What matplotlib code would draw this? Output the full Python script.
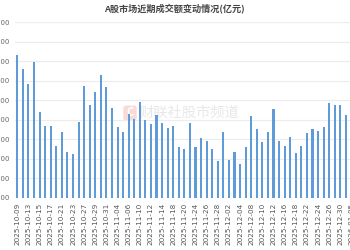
import matplotlib
matplotlib.use("Agg")
import matplotlib.pyplot as plt
from matplotlib.patches import FancyBboxPatch

plt.rcParams['font.family'] = ['Noto Sans CJK SC', 'DejaVu Sans']

dates = [
    "2025-10-09", "2025-10-10", "2025-10-13", "2025-10-14", "2025-10-15", "2025-10-16",
    "2025-10-17", "2025-10-20", "2025-10-21", "2025-10-22", "2025-10-23", "2025-10-24",
    "2025-10-27", "2025-10-28", "2025-10-29", "2025-10-30", "2025-10-31", "2025-11-03",
    "2025-11-04", "2025-11-05", "2025-11-06", "2025-11-07", "2025-11-10", "2025-11-11",
    "2025-11-12", "2025-11-13", "2025-11-14", "2025-11-17", "2025-11-18", "2025-11-19",
    "2025-11-20", "2025-11-21", "2025-11-24", "2025-11-25", "2025-11-26", "2025-11-27",
    "2025-11-28", "2025-12-01", "2025-12-02", "2025-12-03", "2025-12-04", "2025-12-05",
    "2025-12-08", "2025-12-09", "2025-12-10", "2025-12-11", "2025-12-12", "2025-12-15",
    "2025-12-16", "2025-12-17", "2025-12-18", "2025-12-19", "2025-12-22", "2025-12-23",
    "2025-12-24", "2025-12-25", "2025-12-26", "2025-12-29", "2025-12-30", "2025-12-31",
    "2026-01-05",
]

turnover = [
    26615, 25214, 23651, 25869, 20789, 19358, 19389, 17314, 18776, 16701,
    16466, 19767, 23477, 21535, 22803, 24571, 23375, 21198, 19226, 18776,
    20585, 20074, 21842, 20002, 19532, 20483, 19634, 19123, 19328, 17243,
    17038, 19665, 17243, 18101, 17856, 17038, 15812, 18745, 15884, 16671,
    15475, 17212, 20380, 19052, 17754, 18715, 21065, 17825, 17314, 18204,
    16599, 17345, 18674, 19082, 18847, 19287, 21740, 21474, 21505, 20513,
    25000,
]

yticks = [12000, 14000, 16000, 18000, 20000, 22000, 24000, 26000, 28000, 30000]
title = "A股市场近期成交额变动情况(亿元)"

W, H = 350, 250
fig = plt.figure(figsize=(W / 100, H / 100), dpi=100)
fig.patch.set_facecolor("white")

step = 5.57
left_px = 17.3 - step / 2
n = len(dates)
ax = fig.add_axes([left_px / W, 52 / H, n * step / W, 176 / H])
ax.set_zorder(1)
ax.patch.set_alpha(0)

x = list(range(n))
ax.bar(x, turnover, width=0.38, color="#5e9bd8", zorder=3)

ax.set_xlim(-0.5, n - 0.5)
ax.set_ylim(yticks[0], yticks[-1])
ax.set_yticks(yticks)
ax.set_yticklabels([str(v) for v in yticks])
ax.set_xticks(x[::2])
ax.set_xticklabels(dates[::2], rotation=90)

ax.grid(axis="y", color="#ececec", linewidth=0.8, zorder=0)
ax.grid(axis="x", visible=False)
for s in ax.spines.values():
    s.set_visible(False)
ax.tick_params(axis="both", length=0)
ax.tick_params(axis="y", labelsize=5.0, labelcolor="#666666", pad=3.5)
ax.tick_params(axis="x", labelsize=5.2, labelcolor="#555555", pad=3.5)
for lbl in ax.get_xticklabels() + ax.get_yticklabels():
    lbl.set_fontfamily("DejaVu Sans")

fig.text(174 / W, 1 - 9 / H, title, ha="center", va="center",
         fontsize=6.6, color="#444444", fontweight="bold", zorder=2)

# watermark (behind the bars)
logo = FancyBboxPatch((124 / W, 1 - 120 / H), 12 / W, 14 / H,
                      boxstyle="round,pad=0.002,rounding_size=0.01",
                      transform=fig.transFigure, facecolor="#f6d2d2",
                      edgecolor="none", alpha=0.8, zorder=-2)
fig.patches.append(logo)
fig.text(130 / W, 1 - 113 / H, "C", ha="center", va="center", fontsize=8,
         color="white", fontweight="bold", zorder=-1)
fig.text(139 / W, 1 - 113 / H, "财联社股市频道", ha="left", va="center",
         fontsize=10.3, color="#e8e8e8", zorder=-1)

fig.savefig("out.png", dpi=100, facecolor="white")
